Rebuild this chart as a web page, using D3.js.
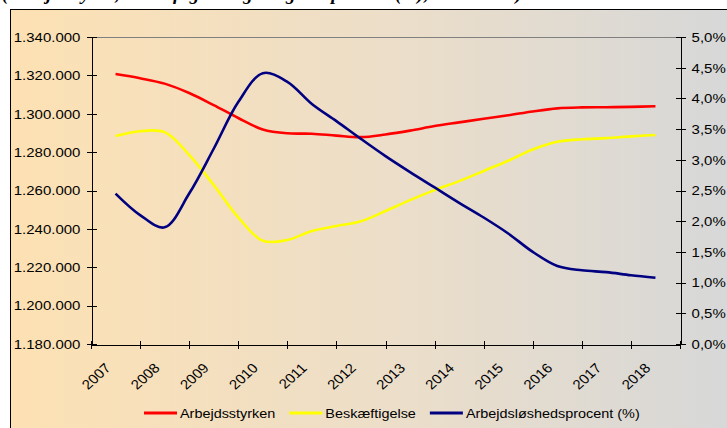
<!DOCTYPE html>
<meta charset="utf-8">
<script src="https://d3js.org/d3.v7.min.js"></script>
<style>
  body { margin: 0; background: #fff; }
  text { font-family: "Liberation Sans", Arial, sans-serif; fill: #000; }
  .axis path, .axis line { stroke: #000; stroke-width: 1px; shape-rendering: crispEdges; }
  .axis text { font-size: 13.5px; }
  .legend text { font-size: 13px; }
  .serie { fill: none; stroke-width: 2.6px; }
</style>
<body>
<div id="chart"></div>
<script>

// ---------------------------//
//           DATA             //
// ---------------------------//

// half-year points, plotted from the middle of 2007 to the middle of 2018
const periods = [2007.5, 2008.0, 2008.5, 2009.0, 2009.5, 2010.0, 2010.5, 2011.0, 2011.5, 2012.0,
  2012.5, 2013.0, 2013.5, 2014.0, 2014.5, 2015.0, 2015.5, 2016.0, 2016.5, 2017.0,
  2017.5, 2018.0, 2018.5]

const arbejdsstyrken = [1320700, 1318500, 1315700, 1310800, 1304500, 1297800, 1291800, 1289800,
  1289600, 1288600, 1287800, 1289200, 1291200, 1293600, 1295500, 1297400, 1299200, 1301200,
  1302800, 1303300, 1303400, 1303600, 1303900]

const beskaeftigelse = [1288400, 1290900, 1290400, 1278600, 1262900, 1246000, 1233800, 1234200,
  1238900, 1241500, 1244000, 1249300, 1255000, 1260200, 1264900, 1270200, 1275500, 1281400,
  1285400, 1286700, 1287300, 1288200, 1288900]

const ledighed = [2.45, 2.10, 1.90, 2.45, 3.18, 3.94, 4.41, 4.27, 3.91, 3.63, 3.34, 3.06, 2.80,
  2.55, 2.30, 2.06, 1.80, 1.50, 1.27, 1.20, 1.17, 1.12, 1.08]

const years = ['2007', '2008', '2009', '2010', '2011', '2012', '2013', '2014', '2015', '2016', '2017', '2018']
const leftTicks = [1180000, 1200000, 1220000, 1240000, 1260000, 1280000, 1300000, 1320000, 1340000]
const rightTicks = [0, 0.5, 1, 1.5, 2, 2.5, 3, 3.5, 4, 4.5, 5]

const seriesNames = ['Arbejdsstyrken', 'Beskæftigelse', 'Arbejdsløshedsprocent (%)']
const seriesColors = ['#ff0000', '#ffff00', '#000080']

// ---------------------------//
//          LAYOUT            //
// ---------------------------//

const outerWidth = 727
const outerHeight = 428
const plot = {left: 91, right: 680, top: 37, bottom: 344}
const SX = 1.11   // the source picture is stretched a bit sideways

const locale = d3.formatLocale({decimal: ',', thousands: '.', grouping: [3], currency: ['', ' kr']})

const SVG = d3.select('#chart').append('svg')
  .attr('width', outerWidth)
  .attr('height', outerHeight)

const defs = SVG.append('defs')
const grad = defs.append('linearGradient').attr('id', 'bg')
  .attr('x1', '0%').attr('x2', '100%').attr('y1', '0%').attr('y2', '0%')
grad.append('stop').attr('offset', '0%').attr('stop-color', '#fde1b3')
grad.append('stop').attr('offset', '50%').attr('stop-color', '#ecdec9')
grad.append('stop').attr('offset', '100%').attr('stop-color', '#d4d7da')

// caption line above the frame, only its lower edge shows in the source
SVG.append('text')
  .attr('x', 2)
  .attr('y', 0)
  .style('font-family', '"Liberation Serif", serif')
  .style('font-style', 'italic')
  .style('font-weight', 'bold')
  .style('font-size', '19px')
  .text('(Arbejdsstyrke, beskæftigelse og ledighedsprocent (%), 2007-2018)')

SVG.append('rect')
  .attr('x', 10.5).attr('y', 9.5)
  .attr('width', 760).attr('height', 440)
  .attr('fill', 'url(#bg)')
  .attr('stroke', '#000')

// ---------------------------//
//          SCALES            //
// ---------------------------//

const x = d3.scaleLinear().domain([2007, 2019]).range([plot.left, plot.right])
const yL = d3.scaleLinear().domain([1180000, 1340000]).range([plot.bottom, plot.top])
const yR = d3.scaleLinear().domain([0, 5]).range([plot.bottom, plot.top])

// plot area top border
SVG.append('line')
  .attr('x1', plot.left).attr('x2', plot.right)
  .attr('y1', plot.top + 0.5).attr('y2', plot.top + 0.5)
  .attr('stroke', '#808080')

// left axis
const gL = SVG.append('g').attr('class', 'axis')
  .attr('transform', `translate(${plot.left + 0.5},0)`)
  .call(d3.axisLeft(yL).tickValues(leftTicks).tickSize(5).tickSizeOuter(0).tickPadding(5)
    .tickFormat(locale.format(',')))
gL.selectAll('.tick line').attr('x1', 5)
gL.selectAll('text').attr('transform', `scale(${SX},1)`)

// right axis
const gR = SVG.append('g').attr('class', 'axis')
  .attr('transform', `translate(${plot.right + 0.5},0)`)
  .call(d3.axisRight(yR).tickValues(rightTicks).tickSize(5).tickSizeOuter(0).tickPadding(5)
    .tickFormat(d => locale.format('.1f')(d) + '%'))
gR.selectAll('.tick line').attr('x1', -5)
gR.selectAll('text').attr('transform', `scale(${SX},1)`)

// bottom axis, ticks between years
const gB = SVG.append('g').attr('class', 'axis')
  .attr('transform', `translate(0,${plot.bottom + 0.5})`)
  .call(d3.axisBottom(x).tickValues(d3.range(2007, 2020)).tickSize(4).tickSizeOuter(0).tickFormat(''))
gB.selectAll('.tick line').attr('y1', -4)

SVG.append('g').selectAll('text')
  .data(years)
  .enter()
  .append('text')
  .attr('transform', d => `translate(${x(+d + 0.5) - 4},${plot.bottom + 25}) scale(${SX},1) rotate(-45)`)
  .style('text-anchor', 'end')
  .style('font-size', '13.5px')
  .text(d => d)

// ---------------------------//
//          LINES             //
// ---------------------------//

const lineL = d3.line().x((d, i) => x(periods[i])).y(d => yL(d)).curve(d3.curveCatmullRom.alpha(0.5))
const lineR = d3.line().x((d, i) => x(periods[i])).y(d => yR(d)).curve(d3.curveCatmullRom.alpha(0.5))

SVG.append('path').attr('class', 'serie').attr('stroke', seriesColors[1]).attr('d', lineL(beskaeftigelse))
SVG.append('path').attr('class', 'serie').attr('stroke', seriesColors[0]).attr('d', lineL(arbejdsstyrken))
SVG.append('path').attr('class', 'serie').attr('stroke', seriesColors[2]).attr('d', lineR(ledighed))

// ---------------------------//
//          LEGEND            //
// ---------------------------//

const legend = SVG.append('g').attr('class', 'legend')
let lx = 144
const ly = 413
seriesNames.forEach((name, i) => {
  legend.append('line')
    .attr('x1', lx).attr('x2', lx + 33)
    .attr('y1', ly).attr('y2', ly)
    .attr('stroke', seriesColors[i])
    .attr('stroke-width', 3)
  const t = legend.append('text')
    .attr('transform', `translate(${lx + 36},${ly + 5}) scale(${SX},1)`)
    .text(name)
  lx += 36 + t.node().getComputedTextLength() * SX + 14
})

</script>
</body>
